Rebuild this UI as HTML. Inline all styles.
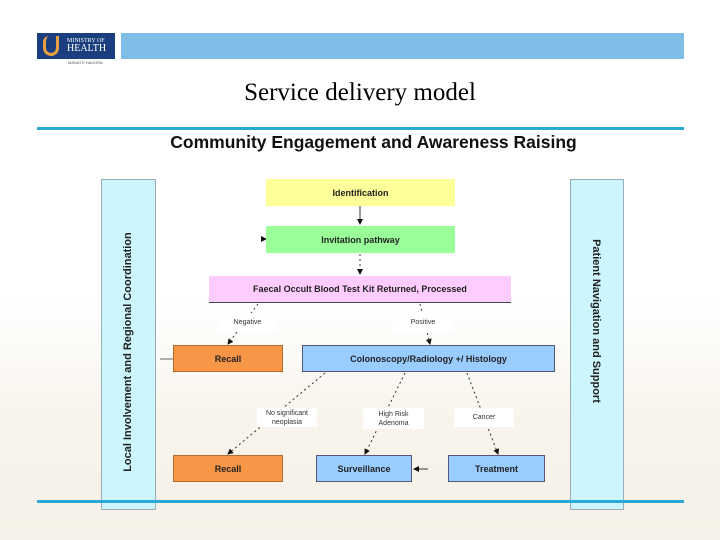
<!DOCTYPE html>
<html><head><style>
body{margin:0;width:720px;height:540px;position:relative;overflow:hidden;font-family:"Liberation Sans",sans-serif;background:linear-gradient(#fff 0,#fff 300px,#f8f4ec 420px,#f5f1e8 540px)}
.a{position:absolute;box-sizing:border-box}
.b{display:flex;align-items:center;justify-content:center;font-size:9px;font-weight:bold;color:#222}
.l{background:#fff;font-size:7px;color:#333;display:flex;align-items:center;justify-content:center;text-align:center;line-height:9px}
</style></head><body>
<div class="a" style="left:37px;top:33px;width:78px;height:26px;background:#1b3f7e;color:#fff;font-family:'Liberation Serif',serif;font-size:6px;padding:4px 0 0 30px;line-height:8px">MINISTRY OF<br><span style="font-size:10px">HEALTH</span></div>
<div class="a" style="left:43px;top:36px;width:16px;height:20px;border:3px solid #e8a040;border-radius:6px 0 8px 8px;border-top:none"></div>
<div class="a" style="left:68px;top:60px;font-size:4px;color:#555">MANATŪ HAUORA</div>
<div class="a" style="left:121px;top:33px;width:563px;height:26px;background:#7dbde6"></div>
<div class="a" style="left:0;top:79px;width:720px;text-align:center;font-family:'Liberation Serif',serif;font-size:25px;color:#000">Service delivery model</div>
<div class="a" style="left:37px;top:127px;width:647px;height:3px;background:#2aa8d8"></div>
<div class="a" style="left:150px;top:132px;width:447px;text-align:center;font-size:17.5px;font-weight:bold;color:#111">Community Engagement and Awareness Raising</div>
<div class="a" style="left:101px;top:179px;width:55px;height:331px;background:#ccf6fc;border:1px solid #9ab"></div>
<div class="a" style="left:128px;top:354px;width:0;height:0"><div style="position:absolute;width:300px;left:-150px;top:-8px;text-align:center;transform:rotate(-90deg);font-size:11px;font-weight:bold;color:#222;white-space:nowrap">Local Involvement and Regional Coordination</div></div>
<div class="a" style="left:570px;top:179px;width:54px;height:331px;background:#ccf6fc;border:1px solid #9ab"></div>
<div class="a" style="left:596px;top:323px;width:0;height:0"><div style="position:absolute;width:300px;left:-150px;top:-8px;text-align:center;transform:rotate(90deg);font-size:11px;font-weight:bold;color:#222;white-space:nowrap">Patient Navigation and Support</div></div>
<div class="a" style="left:37px;top:500px;width:647px;height:3px;background:#2aa8d8"></div>
<svg class="a" style="left:0;top:0" width="720" height="540">
<defs><marker id="m" markerWidth="6" markerHeight="6" refX="5" refY="3" orient="auto"><path d="M0,0L6,3L0,6z" fill="#111"/></marker></defs>
<g stroke="#333" stroke-width="1" fill="none" marker-end="url(#m)">
<line x1="360" y1="206" x2="360" y2="224"/>
<line x1="360" y1="254" x2="360" y2="274" stroke-dasharray="2,3"/>
<line x1="262" y1="239" x2="266" y2="239"/>
<line x1="258" y1="304" x2="228" y2="344" stroke-dasharray="2,3"/>
<line x1="420" y1="304" x2="430" y2="344" stroke-dasharray="2,3"/>
<line x1="325" y1="373" x2="228" y2="454" stroke-dasharray="2,3"/>
<line x1="405" y1="373" x2="365" y2="454" stroke-dasharray="2,3"/>
<line x1="467" y1="373" x2="498" y2="454" stroke-dasharray="2,3"/>
<line x1="428" y1="469" x2="414" y2="469"/>
</g>
<line x1="160" y1="359" x2="173" y2="359" stroke="#666"/>
</svg>
<div class="a b" style="left:266px;top:179px;width:189px;height:27px;background:#ffff99">Identification</div>
<div class="a b" style="left:266px;top:226px;width:189px;height:27px;background:#99ff99">Invitation pathway</div>
<div class="a b" style="left:209px;top:276px;width:302px;height:27px;background:#ffccff;border-bottom:1px solid #444">Faecal Occult Blood Test Kit Returned, Processed</div>
<div class="a l" style="left:218px;top:313px;width:59px;height:19px">Negative</div>
<div class="a l" style="left:393px;top:313px;width:60px;height:19px">Positive</div>
<div class="a b" style="left:173px;top:345px;width:110px;height:27px;background:#f79646;border:1px solid #b86a2a">Recall</div>
<div class="a b" style="left:302px;top:345px;width:253px;height:27px;background:#99ccff;border:1px solid #557">Colonoscopy/Radiology +/ Histology</div>
<div class="a l" style="left:257px;top:408px;width:60px;height:19px">No significant neoplasia</div>
<div class="a l" style="left:363px;top:408px;width:61px;height:21px">High Risk Adenoma</div>
<div class="a l" style="left:454px;top:408px;width:60px;height:19px">Cancer</div>
<div class="a b" style="left:173px;top:455px;width:110px;height:27px;background:#f79646;border:1px solid #b86a2a">Recall</div>
<div class="a b" style="left:316px;top:455px;width:96px;height:27px;background:#99ccff;border:1px solid #557">Surveillance</div>
<div class="a b" style="left:448px;top:455px;width:97px;height:27px;background:#99ccff;border:1px solid #557">Treatment</div>
</body></html>
